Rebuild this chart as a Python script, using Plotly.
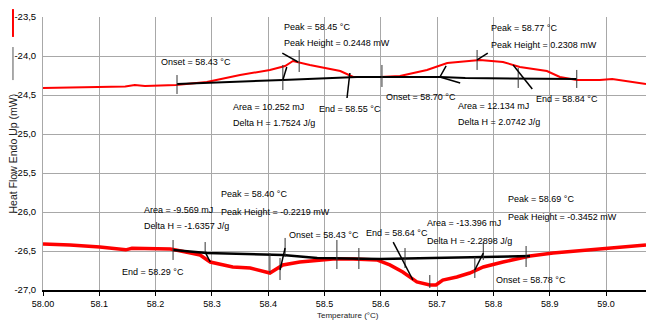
import plotly.graph_objects as go

# ---- DSC heat-flow data (temperature in °C, heat flow in mW) ----
heating_temp = [58.000, 58.101, 58.146, 58.163, 58.181, 58.236, 58.291, 58.350, 58.403,
                58.430, 58.444, 58.474, 58.528, 58.551, 58.599, 58.634, 58.682, 58.718,
                58.741, 58.776, 58.817, 58.847, 58.895, 58.918, 58.948, 58.989, 59.011, 59.071]
heating_flow = [-24.410, -24.397, -24.390, -24.372, -24.385, -24.372, -24.333, -24.244, -24.179,
                -24.128, -24.064, -24.115, -24.192, -24.269, -24.269, -24.256, -24.179, -24.090,
                -24.077, -24.051, -24.077, -24.141, -24.192, -24.269, -24.308, -24.308, -24.295, -24.359]

heating_base_temp = [58.238, 58.279, 58.426, 58.558, 58.705, 58.750, 58.948]
heating_base_flow = [-24.359, -24.346, -24.308, -24.269, -24.269, -24.282, -24.295]

cooling_temp = [58.000, 58.048, 58.101, 58.137, 58.147, 58.158, 58.226, 58.236, 58.279, 58.297,
                58.337, 58.368, 58.403, 58.426, 58.456, 58.515, 58.551, 58.593, 58.616, 58.639,
                58.664, 58.687, 58.698, 58.710, 58.735, 58.758, 58.782, 58.817, 58.865, 58.906,
                58.948, 58.995, 59.030, 59.071]
cooling_flow = [-26.410, -26.423, -26.449, -26.470, -26.485, -26.466, -26.474, -26.487, -26.551, -26.641,
                -26.705, -26.718, -26.782, -26.679, -26.641, -26.603, -26.603, -26.615, -26.679, -26.769,
                -26.897, -26.936, -26.936, -26.872, -26.833, -26.782, -26.705, -26.641, -26.564, -26.526,
                -26.500, -26.462, -26.449, -26.423]

cooling_base_temp = [58.231, 58.291, 58.426, 58.487, 58.599, 58.753, 58.865]
cooling_base_flow = [-26.487, -26.526, -26.551, -26.590, -26.603, -26.577, -26.564]

# Event markers from the analysis software: (temperature, flow from, flow to)
event_ticks = [
    (58.238, -24.244, -24.487), (58.426, -24.115, -24.436), (58.455, -23.923, -24.205),
    (58.602, -24.115, -24.397), (58.771, -23.923, -24.179), (58.844, -24.154, -24.410),
    (58.948, -24.179, -24.410),
    (58.231, -26.359, -26.615), (58.288, -26.385, -26.526), (58.403, -26.526, -26.782),
    (58.421, -26.590, -26.872), (58.430, -26.333, -26.577), (58.522, -26.359, -26.731),
    (58.561, -26.462, -26.731), (58.643, -26.462, -26.718), (58.687, -26.808, -26.974),
    (58.767, -26.577, -26.846), (58.782, -26.385, -26.615), (58.858, -26.436, -26.705),
]
# Tangent construction lines: list of (temperature list, flow list)
tangent_lines = [
    ([58.425, 58.453], [-23.962, -24.077]),
    ([58.433, 58.426], [-24.141, -24.308]),
    ([58.545, 58.540], [-24.218, -24.538]),
    ([58.716, 58.705, 58.741], [-24.128, -24.269, -24.346]),
    ([58.771, 58.790], [-24.051, -23.962]),
    ([58.835, 58.869], [-24.115, -24.423]),
    ([58.288, 58.297], [-26.513, -26.641]),
    ([58.421, 58.430], [-26.744, -26.462]),
    ([58.622, 58.657], [-26.385, -26.872]),
    ([58.767, 58.782], [-26.744, -26.526]),
]

# Result labels and their anchor points (left edge, vertical middle)
label_texts = [
    "Onset = 58.43 °C", "Peak = 58.45 °C", "Peak Height = 0.2448 mW",
    "Area = 10.252 mJ", "Delta H = 1.7524 J/g", "End = 58.55 °C",
    "Onset = 58.70 °C", "Peak = 58.77 °C", "Peak Height = 0.2308 mW",
    "Area = 12.134 mJ", "Delta H = 2.0742 J/g", "End = 58.84 °C",
    "Area = -9.569 mJ", "Delta H = -1.6357 J/g", "End = 58.29 °C",
    "Peak = 58.40 °C", "Peak Height = -0.2219 mW", "Onset = 58.43 °C",
    "End = 58.64 °C", "Area = -13.396 mJ", "Delta H = -2.2898 J/g",
    "Peak = 58.69 °C", "Peak Height = -0.3452 mW", "Onset = 58.78 °C",
]
label_x = [58.208, 58.426, 58.426, 58.336, 58.336, 58.488,
           58.607, 58.794, 58.794, 58.735, 58.735, 58.874,
           58.178, 58.178, 58.139, 58.314, 58.314, 58.435,
           58.572, 58.680, 58.680, 58.824, 58.824, 58.803]
label_y = [-24.077, -23.628, -23.833, -24.654, -24.859, -24.679,
           -24.526, -23.641, -23.859, -24.641, -24.846, -24.551,
           -25.974, -26.179, -26.769, -25.769, -26.000, -26.295,
           -26.269, -26.141, -26.372, -25.833, -26.064, -26.872]

x_tick_vals = [58.0, 58.1, 58.2, 58.3, 58.4, 58.5, 58.6, 58.7, 58.8, 58.9, 59.0]
x_tick_text = ["58.00", "58.1", "58.2", "58.3", "58.4", "58.5", "58.6", "58.7", "58.8", "58.9", "59.0"]
y_tick_vals = [-27.0, -26.5, -26.0, -25.5, -25.0, -24.5, -24.0, -23.5]
y_tick_text = ["-27,0", "-26,5", "-26,0", "-25,5", "-25,0", "-24,5", "-24,0", "-23,5"]

SANS = "Liberation Sans, Arial, sans-serif"
RED = "#ff0000"

fig = go.Figure()

fig.add_trace(go.Scatter(x=heating_temp, y=heating_flow, mode="lines",
                         line=dict(color=RED, width=2), hoverinfo="skip"))
fig.add_trace(go.Scatter(x=cooling_temp, y=cooling_flow, mode="lines",
                         line=dict(color=RED, width=3.5), hoverinfo="skip"))
fig.add_trace(go.Scatter(x=heating_base_temp, y=heating_base_flow, mode="lines",
                         line=dict(color="black", width=2), hoverinfo="skip"))
fig.add_trace(go.Scatter(x=cooling_base_temp, y=cooling_base_flow, mode="lines",
                         line=dict(color="black", width=2.5), hoverinfo="skip"))

# Event ticks (drawn as one broken line)
tx, ty = [], []
for t, f0, f1 in event_ticks:
    tx += [t, t, None]
    ty += [f0, f1, None]
fig.add_trace(go.Scatter(x=tx, y=ty, mode="lines", line=dict(color="#333333", width=1),
                         hoverinfo="skip"))
lx, ly = [], []
for xs, ys in tangent_lines:
    lx += xs + [None]
    ly += ys + [None]
fig.add_trace(go.Scatter(x=lx, y=ly, mode="lines", line=dict(color="black", width=1.5),
                         hoverinfo="skip"))

for txt, ax, ay in zip(label_texts, label_x, label_y):
    fig.add_annotation(x=ax, y=ay, text=txt, showarrow=False, xanchor="left", yanchor="middle",
                       xshift=-1, font=dict(family=SANS, size=9, color="black"))

# Axis titles
fig.add_annotation(xref="paper", yref="paper", x=-0.0498, y=0.50, text="Heat Flow Endo Up (mW)",
                   textangle=-90, showarrow=False, xanchor="center", yanchor="middle",
                   font=dict(family=SANS, size=10.5, color="#222222"))
fig.add_annotation(xref="paper", yref="paper", x=0.506, y=-0.092, text="Temperature (°C)",
                   showarrow=False, xanchor="center", yanchor="middle",
                   font=dict(family=SANS, size=8, color="#222222"))

# Series swatches beside the y-axis title
fig.add_shape(type="line", xref="paper", yref="paper", x0=-0.0498, x1=-0.0498, y0=0.927, y1=1.029,
              line=dict(color=RED, width=2))
fig.add_shape(type="line", xref="paper", yref="paper", x0=-0.0498, x1=-0.0498, y0=0.769, y1=0.890,
              line=dict(color="#555555", width=1))

fig.update_layout(
    width=646, height=322,
    margin=dict(l=43, r=0, t=17, b=32),
    paper_bgcolor="white", plot_bgcolor="white",
    showlegend=False,
    xaxis=dict(range=[58.0, 59.071], tickvals=x_tick_vals, ticktext=x_tick_text,
               showgrid=True, gridcolor="#a8a8a8", gridwidth=1, zeroline=False,
               showline=True, linecolor="black", linewidth=2,
               ticks="outside", ticklen=4, tickcolor="black",
               tickfont=dict(family=SANS, size=9, color="black")),
    yaxis=dict(range=[-27.0, -23.5], tickvals=y_tick_vals, ticktext=y_tick_text,
               showgrid=True, gridcolor="#a8a8a8", gridwidth=1, zeroline=False,
               showline=True, linecolor="#a8a8a8", linewidth=1, ticks="",
               ticklabelstandoff=4,
               tickfont=dict(family=SANS, size=9.5, color="black")),
)

fig.write_html("out.html")
